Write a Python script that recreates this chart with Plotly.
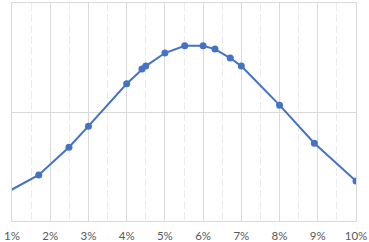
import plotly.graph_objects as go

x_pct = [0.9, 1.70, 2.49, 3.0, 4.0, 4.40, 4.50, 5.0, 5.52, 6.0, 6.31, 6.71, 7.0, 8.0, 8.91, 10.0]
y_val = [0.27, 0.423, 0.677, 0.870, 1.259, 1.394, 1.421, 1.541, 1.608, 1.608, 1.577, 1.495, 1.421, 1.063, 0.714, 0.367]
tick_vals = [1, 2, 3, 4, 5, 6, 7, 8, 9, 10]
tick_text = ["1%", "2%", "3%", "4%", "5%", "6%", "7%", "8%", "9%", "10%"]

fig = go.Figure()
fig.add_trace(go.Scatter(
    x=x_pct, y=y_val, mode="lines+markers",
    line=dict(color="#4472C4", width=2),
    marker=dict(color="#4472C4", size=7),
    cliponaxis=True,
))

fig.update_layout(
    width=369, height=242, autosize=False,
    margin=dict(l=12, r=13, t=3, b=21, pad=0),
    paper_bgcolor="white", plot_bgcolor="white",
    showlegend=False,
    font=dict(family="Lato, Open Sans, Arial", size=11.5, color="#595959"),
)
fig.update_xaxes(
    range=[1, 10], tickvals=tick_vals, ticktext=tick_text,
    showgrid=True, gridcolor="#D9D9D9", gridwidth=1,
    minor=dict(dtick=0.5, tick0=0.5, showgrid=True, gridcolor="#EBEBEB", griddash="8px,3px", gridwidth=1),
    showline=True, linecolor="#D9D9D9", linewidth=1, mirror=True,
    zeroline=False, ticks="outside", ticklen=4, tickcolor="rgba(0,0,0,0)",
    automargin=False, ticklabeloverflow="allow",
    tickfont=dict(family="Lato, Open Sans, Arial", size=11.5, color="#595959"),
)
fig.update_yaxes(
    range=[0, 2], dtick=1, tick0=0,
    showgrid=True, gridcolor="#D9D9D9", gridwidth=1,
    showline=True, linecolor="#D9D9D9", linewidth=1, mirror=True,
    showticklabels=False, zeroline=False, ticks="", automargin=False,
)
fig.write_html("out.html")
